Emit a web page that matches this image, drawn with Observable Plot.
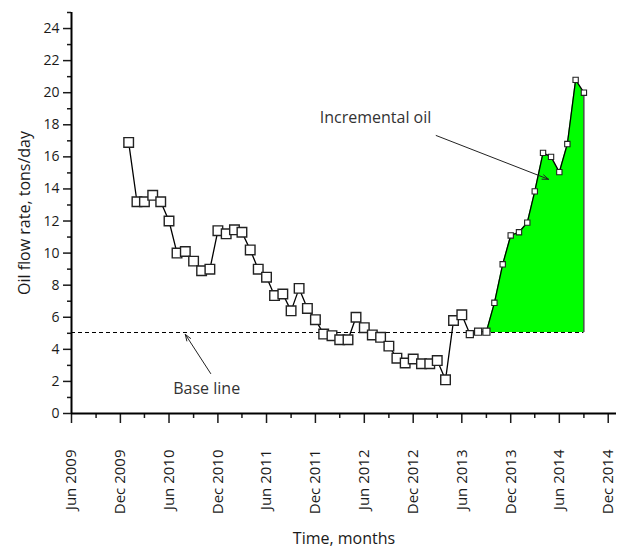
<!DOCTYPE html>
<html><head><meta charset="utf-8">
<script src="https://cdn.jsdelivr.net/npm/d3@7"></script>
<script src="https://cdn.jsdelivr.net/npm/@observablehq/plot@0.6"></script>
<style>body{margin:0;background:#fff;}</style>
</head><body><div id="chart"></div>
<script>
// ---- data ----
const months = [
  "2010-01","2010-02","2010-03","2010-04","2010-05","2010-06","2010-07","2010-08","2010-09","2010-10","2010-11","2010-12",
  "2011-01","2011-02","2011-03","2011-04","2011-05","2011-06","2011-07","2011-08","2011-09","2011-10","2011-11","2011-12",
  "2012-01","2012-02","2012-03","2012-04","2012-05","2012-06","2012-07","2012-08","2012-09","2012-10","2012-11","2012-12",
  "2013-01","2013-02","2013-03","2013-04","2013-05","2013-06","2013-07","2013-08","2013-09","2013-10","2013-11","2013-12",
  "2014-01","2014-02","2014-03","2014-04","2014-05","2014-06","2014-07","2014-08","2014-09"
];
const flowRate = [
  16.9, 13.2, 13.2, 13.6, 13.2, 12.0, 10.0, 10.1, 9.5, 8.9, 9.0, 11.4,
  11.2, 11.45, 11.3, 10.2, 9.0, 8.5, 7.35, 7.45, 6.4, 7.8, 6.55, 5.85,
  4.95, 4.85, 4.6, 4.6, 6.0, 5.35, 4.9, 4.75, 4.2, 3.45, 3.15, 3.4,
  3.1, 3.1, 3.3, 2.1, 5.8, 6.15, 4.95, 5.1, 5.1, 6.9, 9.3, 11.1,
  11.3, 11.9, 13.85, 16.25, 16.0, 15.05, 16.8, 20.8, 20.0
];
const baseLineValue = 5.05;
const transitionStart = "2013-07";   // medium markers
const treatmentStart = "2013-10";    // small markers
const incrementalStart = "2013-09";  // green area begins
const xTicksMajor = ["2009-06","2009-12","2010-06","2010-12","2011-06","2011-12","2012-06","2012-12","2013-06","2013-12","2014-06","2014-12"];
const xTicksMinor = ["2009-09","2010-03","2010-09","2011-03","2011-09","2012-03","2012-09","2013-03","2013-09","2014-03","2014-09"];
const yTicksMajor = [0,2,4,6,8,10,12,14,16,18,20,22,24];
const yTicksMinor = [1,3,5,7,9,11,13,15,17,19,21,23,25];
const xDomain = ["2009-06","2015-01"];
const yDomain = [0, 25];
const annIncremental = {label: "Incremental oil", tx: "2012-07-13", ty: 18.4, ax1: "2013-02-25", ay1: 17.33, ax2: "2014-04-22", ay2: 14.6};
const annBase = {label: "Base line", tx: "2010-10-20", ty: 1.56, ax1: "2010-11-04", ay1: 2.49, ax2: "2010-08-01", ay2: 4.93};

// ---- build ----
const parseM = d3.utcParse("%Y-%m");
const parseD = d3.utcParse("%Y-%m-%d");
const data = months.map((m, i) => ({date: parseM(m), value: flowRate[i]}));
const t2 = parseM(transitionStart), t3 = parseM(treatmentStart), tInc = parseM(incrementalStart);
const big = data.filter(d => d.date < t2);
const mid = data.filter(d => d.date >= t2 && d.date < t3);
const small = data.filter(d => d.date >= t3);
const inc = data.filter(d => d.date >= tInc);
const last = data[data.length - 1];
const x0 = parseM(xDomain[0]);
const font = "'Open Sans', sans-serif";

const chart = Plot.plot({
  width: 619, height: 549,
  marginLeft: 71, marginTop: 12, marginBottom: 136, marginRight: 3,
  style: {fontFamily: font, fontSize: "14px", color: "#1a1a1a", background: "white", overflow: "visible"},
  x: {type: "utc", domain: xDomain.map(parseM)},
  y: {domain: yDomain},
  marks: [
    Plot.areaY(inc, {x: "date", y1: baseLineValue, y2: "value", fill: "#00ff00"}),
    Plot.ruleY([baseLineValue], {x1: x0, x2: last.date, stroke: "black", strokeWidth: 1.2, strokeDasharray: "4,3"}),
    Plot.ruleX([last], {x: "date", y1: baseLineValue, y2: "value", stroke: "black", strokeWidth: 1}),
    Plot.line(data, {x: "date", y: "value", stroke: "black", strokeWidth: 1.3}),
    Plot.dot(big, {x: "date", y: "value", symbol: "square", r: 5.4, fill: "white", stroke: "#222", strokeWidth: 1.4}),
    Plot.dot(mid, {x: "date", y: "value", symbol: "square", r: 4.0, fill: "white", stroke: "#222", strokeWidth: 1.2}),
    Plot.dot(small, {x: "date", y: "value", symbol: "square", r: 3.0, fill: "white", stroke: "#222", strokeWidth: 1.1}),
    Plot.arrow([annIncremental], {x1: d => parseD(d.ax1), y1: "ay1", x2: d => parseD(d.ax2), y2: "ay2", stroke: "#222", strokeWidth: 1, headLength: 10, headAngle: 40}),
    Plot.arrow([annBase], {x1: d => parseD(d.ax1), y1: "ay1", x2: d => parseD(d.ax2), y2: "ay2", stroke: "#222", strokeWidth: 1, headLength: 10, headAngle: 40}),
    Plot.text([annIncremental, annBase], {x: d => parseD(d.tx), y: "ty", text: "label", fontSize: 16, fill: "#333", fontFamily: font}),
    Plot.axisX({ticks: xTicksMajor.map(parseM), tickFormat: d3.utcFormat("%b %Y"), tickRotate: -90, tickSize: 10, tickPadding: 26, fontSize: 15, strokeWidth: 1.5, label: null}),
    Plot.axisX({ticks: xTicksMinor.map(parseM), tickFormat: () => "", tickSize: 5, strokeWidth: 1.5, label: null}),
    Plot.axisX({ticks: [], label: "Time, months", labelAnchor: "center", labelArrow: false, labelOffset: 130, fontSize: 16}),
    Plot.axisY({ticks: yTicksMajor, tickSize: 8, tickPadding: 4, fontSize: 14, strokeWidth: 1.5, label: null}),
    Plot.axisY({ticks: yTicksMinor, tickFormat: () => "", tickSize: 4, strokeWidth: 1.5, label: null}),
    Plot.axisY({ticks: [], label: "Oil flow rate, tons/day", labelAnchor: "center", labelArrow: false, labelOffset: 53, fontSize: 16}),
    Plot.ruleX([x0], {y1: 0, y2: 25, stroke: "black", strokeWidth: 2}),
    Plot.ruleY([0], {stroke: "black", strokeWidth: 2})
  ]
});
document.getElementById("chart").append(chart);
</script>
</body></html>
